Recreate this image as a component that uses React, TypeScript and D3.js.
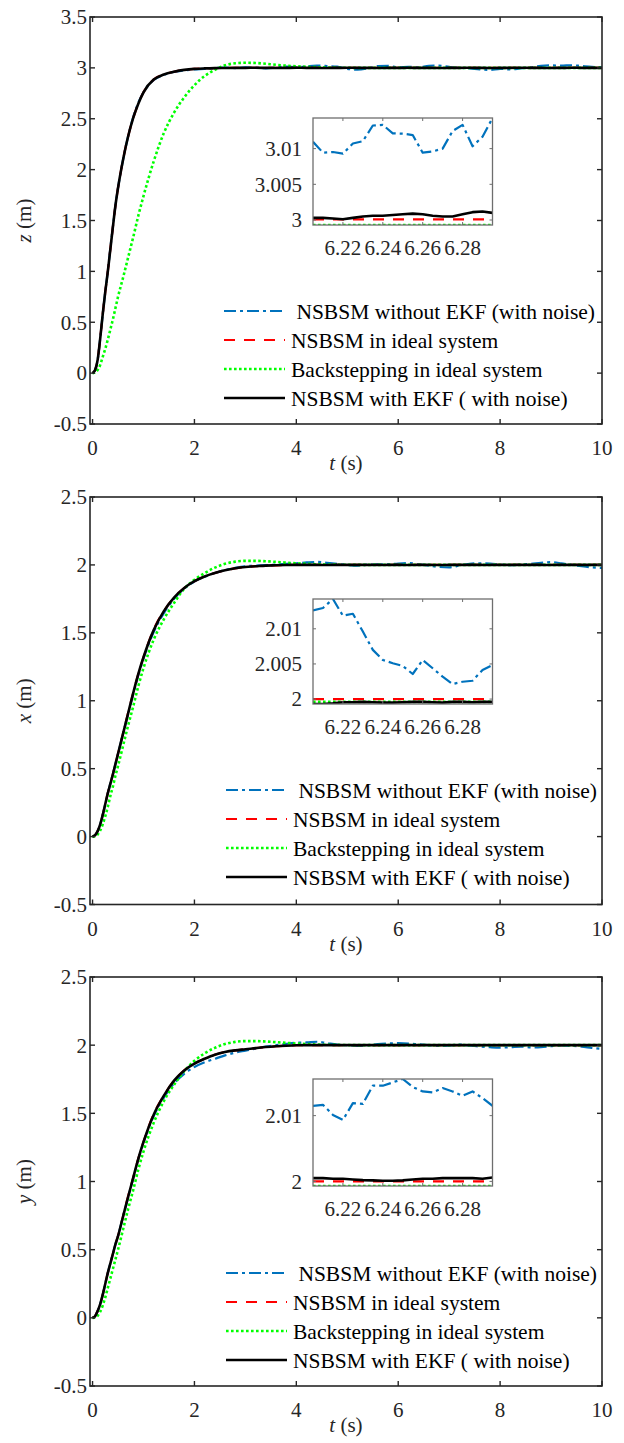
import React from 'react';
import * as d3 from 'd3';

// ---------- time grids ----------
const T = [
  0, 0.05, 0.1, 0.15, 0.2, 0.25, 0.3, 0.35, 0.4, 0.45,
  0.5, 0.6, 0.7, 0.8, 0.9, 1.0, 1.2, 1.4, 1.6, 1.8,
  2.0, 2.2, 2.4, 2.6, 2.8, 3.0, 3.2, 3.4, 3.6, 3.8,
  4.0, 4.2, 4.4, 4.6, 4.8, 5.0, 5.2, 5.4, 5.6, 5.8,
  6.0, 6.2, 6.4, 6.6, 6.8, 7.0, 7.2, 7.4, 7.6, 7.8,
  8.0, 8.2, 8.4, 8.6, 8.8, 9.0, 9.2, 9.4, 9.6, 9.8,
  10.0,
];
const T_IN = [6.205, 6.21, 6.215, 6.22, 6.225, 6.23, 6.235, 6.24, 6.245, 6.25,
  6.255, 6.26, 6.265, 6.27, 6.275, 6.28, 6.285, 6.29, 6.295];

// ---------- z panel ----------
const Z_BLUE = [
  0, 0.03, 0.13, 0.34, 0.58, 0.8, 1.0, 1.23, 1.44, 1.65,
  1.82, 2.1, 2.33, 2.52, 2.66, 2.76, 2.88, 2.93, 2.96, 2.975,
  2.985, 2.99, 2.997, 3.003, 2.998, 3.005, 3.002, 2.996, 3.004, 3.012,
  3.006, 3.015, 3.022, 3.018, 3.012, 2.99, 2.982, 2.995, 3.018, 3.02,
  3.005, 3.011, 3.005, 3.02, 3.022, 3.01, 3.0, 2.995, 2.985, 2.98,
  2.99, 2.985, 2.995, 3.005, 3.02, 3.025, 3.022, 3.026, 3.018, 3.01,
  3.005,
];
const Z_RED = [
  0, 0.03, 0.13, 0.34, 0.58, 0.8, 1.0, 1.22, 1.44, 1.65,
  1.82, 2.1, 2.33, 2.51, 2.65, 2.76, 2.885, 2.935, 2.962, 2.98,
  2.99, 2.995, 2.998, 2.999, 3.0, 3.0, 3.0, 3.0, 3.0, 3.0,
  3.0, 3.0, 3.0, 3.0, 3.0, 3.0, 3.0, 3.0, 3.0, 3.0,
  3.0, 3.0, 3.0, 3.0, 3.0, 3.0, 3.0, 3.0, 3.0, 3.0,
  3.0, 3.0, 3.0, 3.0, 3.0, 3.0, 3.0, 3.0, 3.0, 3.0,
  3.0,
];
const Z_GREEN = [
  0, 0.005, 0.03, 0.08, 0.16, 0.24, 0.33, 0.43, 0.53, 0.64,
  0.75, 0.94, 1.14, 1.34, 1.55, 1.74, 2.08, 2.36, 2.56, 2.71,
  2.83, 2.92, 2.98, 3.025, 3.045, 3.05, 3.048, 3.04, 3.03, 3.022,
  3.016, 3.011, 3.007, 3.004, 3.002, 3.001, 3.0, 3.0, 3.0, 3.0,
  3.0, 3.0, 3.0, 3.0, 3.0, 3.0, 3.0, 3.0, 3.0, 3.0,
  3.0, 3.0, 3.0, 3.0, 3.0, 3.0, 3.0, 3.0, 3.0, 3.0,
  3.0,
];
const Z_BLACK = [
  0, 0.03, 0.13, 0.34, 0.58, 0.8, 1.0, 1.22, 1.44, 1.65,
  1.82, 2.1, 2.33, 2.51, 2.65, 2.76, 2.885, 2.935, 2.962, 2.98,
  2.99, 2.995, 2.998, 2.999, 3.0, 3.0, 3.001, 3.0, 2.999, 3.0,
  3.001, 3.0, 3.0, 2.999, 3.0, 3.001, 3.0, 3.0, 2.999, 3.0,
  3.0, 3.0005, 3.0, 3.0, 2.999, 3.0, 3.0, 3.001, 3.0, 2.999,
  3.0, 3.0, 3.001, 3.0, 3.0, 2.999, 3.0, 3.001, 3.0, 3.0,
  3.0,
];
const Z_IN_BLUE = [3.01096, 3.00943, 3.00953, 3.00929, 3.01071, 3.01104, 3.01324, 3.01333, 3.01214, 3.0121,
  3.0119, 3.00943, 3.00961, 3.01, 3.01247, 3.01333, 3.01033, 3.01167, 3.01429];
const Z_IN_RED = [3.0001, 3.0001, 3.0001, 3.0001, 3.0001, 3.0001, 3.0001, 3.0001, 3.0001, 3.0001,
  3.0001, 3.0001, 3.0001, 3.0001, 3.0001, 3.0001, 3.0001, 3.0001, 3.0001];
const Z_IN_GREEN = [2.9993, 2.9993, 2.9993, 2.9993, 2.9993, 2.9993, 2.9993, 2.9993, 2.9993, 2.9993,
  2.9993, 2.9993, 2.9993, 2.9993, 2.9993, 2.9993, 2.9993, 2.9993, 2.9993];
const Z_IN_BLACK = [3.0003, 3.0003, 3.0002, 3.0001, 3.0003, 3.0005, 3.0006, 3.0006, 3.0007, 3.0008,
  3.0009, 3.0008, 3.0006, 3.0005, 3.0005, 3.0008, 3.0011, 3.0012, 3.001];

// ---------- x panel ----------
const X_BLUE = [
  0, 0.01, 0.04, 0.09, 0.16, 0.24, 0.32, 0.39, 0.46, 0.535,
  0.61, 0.76, 0.905, 1.05, 1.19, 1.31, 1.505, 1.645, 1.75, 1.825,
  1.878, 1.912, 1.94, 1.962, 1.978, 1.99, 1.995, 1.998, 2.003, 2.008,
  2.012, 2.018, 2.022, 2.015, 2.008, 2.0, 1.995, 2.002, 2.006, 2.004,
  2.01, 2.013, 2.005, 1.995, 1.985, 1.982, 1.995, 2.008, 2.012, 2.01,
  2.002, 1.998, 2.003, 2.008, 2.015, 2.02, 2.012, 2.0, 1.99, 1.982,
  1.978,
];
const X_RED = [
  0, 0.01, 0.04, 0.09, 0.16, 0.24, 0.32, 0.39, 0.46, 0.535,
  0.61, 0.76, 0.915, 1.06, 1.2, 1.32, 1.525, 1.66, 1.76, 1.83,
  1.88, 1.915, 1.94, 1.96, 1.975, 1.985, 1.99, 1.995, 1.997, 1.999,
  2.0, 2.0, 2.0, 2.0, 2.0, 2.0, 2.0, 2.0, 2.0, 2.0,
  2.0, 2.0, 2.0, 2.0, 2.0, 2.0, 2.0, 2.0, 2.0, 2.0,
  2.0, 2.0, 2.0, 2.0, 2.0, 2.0, 2.0, 2.0, 2.0, 2.0,
  2.0,
];
const X_GREEN = [
  0, 0.003, 0.015, 0.045, 0.09, 0.15, 0.22, 0.3, 0.37, 0.45,
  0.52, 0.67, 0.82, 0.96, 1.11, 1.24, 1.45, 1.6, 1.72, 1.825,
  1.89, 1.94, 1.98, 2.008, 2.024, 2.03, 2.03, 2.027, 2.022, 2.017,
  2.012, 2.008, 2.005, 2.003, 2.002, 2.001, 2.0, 2.0, 2.0, 2.0,
  2.0, 2.0, 2.0, 2.0, 2.0, 2.0, 2.0, 2.0, 2.0, 2.0,
  2.0, 2.0, 2.0, 2.0, 2.0, 2.0, 2.0, 2.0, 2.0, 2.0,
  2.0,
];
const X_BLACK = [
  0, 0.01, 0.04, 0.09, 0.16, 0.24, 0.32, 0.39, 0.46, 0.535,
  0.61, 0.76, 0.91, 1.06, 1.2, 1.32, 1.52, 1.66, 1.76, 1.83,
  1.88, 1.915, 1.94, 1.96, 1.975, 1.985, 1.99, 1.995, 1.997, 1.999,
  2.0, 2.0, 2.0, 1.999, 2.0, 2.0, 2.0, 2.0, 1.999, 2.0,
  2.0, 1.9995, 2.0, 2.0, 1.999, 2.0, 2.0, 2.0, 2.0, 1.999,
  2.0, 2.0, 2.0, 2.0, 2.0, 1.999, 2.0, 2.0, 2.0, 2.0,
  2.0,
];
const X_IN_BLUE = [2.01261, 2.01296, 2.01424, 2.01186, 2.01214, 2.00961, 2.007, 2.00557, 2.0051, 2.00471,
  2.00357, 2.00557, 2.00439, 2.00319, 2.00214, 2.00247, 2.00261, 2.00414, 2.00486];
const X_IN_RED = [2.0, 2.0, 2.0, 2.0, 2.0, 2.0, 2.0, 2.0, 2.0, 2.0,
  2.0, 2.0, 2.0, 2.0, 2.0, 2.0, 2.0, 2.0, 2.0];
const X_IN_GREEN = [1.9996, 1.9996, 1.9996, 1.9996, 1.9996, 1.9996, 1.9996, 1.9996, 1.9996, 1.9996,
  1.9996, 1.9996, 1.9996, 1.9996, 1.9996, 1.9996, 1.9996, 1.9996, 1.9996];
const X_IN_BLACK = [1.9993, 1.9993, 1.9994, 1.99955, 1.99955, 1.9996, 1.99955, 1.9995, 1.9995, 1.99955,
  1.9996, 1.9996, 1.99955, 1.9995, 1.9996, 1.9996, 1.99955, 1.9996, 1.9996];

// ---------- y panel ----------
const Y_BLUE = [
  0, 0.012, 0.05, 0.1, 0.17, 0.25, 0.33, 0.4, 0.47, 0.54,
  0.6, 0.745, 0.885, 1.025, 1.165, 1.285, 1.48, 1.615, 1.72, 1.79,
  1.84, 1.875, 1.9, 1.925, 1.945, 1.96, 1.975, 1.99, 2.0, 2.01,
  2.018, 2.02, 2.025, 2.015, 2.005, 2.0, 1.995, 2.0, 2.008, 2.012,
  2.015, 2.012, 2.006, 2.0, 1.995, 1.998, 2.004, 1.998, 1.99, 1.985,
  1.982, 1.985, 1.99, 1.983, 1.985, 1.992, 1.998, 1.995, 1.99, 1.98,
  1.972,
];
const Y_RED = [
  0, 0.012, 0.05, 0.1, 0.17, 0.25, 0.33, 0.4, 0.47, 0.54,
  0.6, 0.745, 0.895, 1.03, 1.17, 1.29, 1.495, 1.63, 1.74, 1.815,
  1.865, 1.9, 1.93, 1.95, 1.962, 1.97, 1.978, 1.986, 1.992, 1.996,
  2.0, 2.0, 2.0, 2.0, 2.0, 2.0, 2.0, 2.0, 2.0, 2.0,
  2.0, 2.0, 2.0, 2.0, 2.0, 2.0, 2.0, 2.0, 2.0, 2.0,
  2.0, 2.0, 2.0, 2.0, 2.0, 2.0, 2.0, 2.0, 2.0, 2.0,
  2.0,
];
const Y_GREEN = [
  0, 0.003, 0.015, 0.045, 0.09, 0.15, 0.22, 0.29, 0.36, 0.43,
  0.5, 0.65, 0.8, 0.94, 1.09, 1.22, 1.43, 1.59, 1.71, 1.81,
  1.885, 1.94, 1.98, 2.008, 2.024, 2.03, 2.03, 2.027, 2.022, 2.017,
  2.012, 2.008, 2.005, 2.003, 2.002, 2.001, 2.0, 2.0, 2.0, 2.0,
  2.0, 2.0, 2.0, 2.0, 2.0, 2.0, 2.0, 2.0, 2.0, 2.0,
  2.0, 2.0, 2.0, 2.0, 2.0, 2.0, 2.0, 2.0, 2.0, 2.0,
  2.0,
];
const Y_BLACK = [
  0, 0.012, 0.05, 0.1, 0.17, 0.25, 0.33, 0.4, 0.47, 0.54,
  0.6, 0.745, 0.89, 1.03, 1.17, 1.29, 1.49, 1.63, 1.74, 1.815,
  1.865, 1.9, 1.93, 1.95, 1.962, 1.97, 1.978, 1.986, 1.992, 1.996,
  1.999, 2.0, 2.0, 2.0, 2.0, 2.0, 2.0, 2.0, 2.0, 2.0,
  2.0, 2.0003, 2.0, 2.0, 2.0, 2.0, 2.0, 2.0, 2.0, 2.0,
  2.0, 2.0, 2.0, 2.0, 2.0, 2.0, 2.0, 2.0, 2.0, 2.0,
  2.0,
];
const Y_IN_BLUE = [2.01149, 2.01164, 2.01011, 2.00934, 2.0119, 2.01179, 2.01455, 2.01455, 2.01505, 2.01557,
  2.01435, 2.01368, 2.01352, 2.0142, 2.01368, 2.01302, 2.01368, 2.01266, 2.01149];
const Y_IN_RED = [2.0, 2.0, 2.0, 2.0, 2.0, 2.0, 2.0, 2.0, 2.0, 2.0,
  2.0, 2.0, 2.0, 2.0, 2.0, 2.0, 2.0, 2.0, 2.0];
const Y_IN_GREEN = [1.9993, 1.9993, 1.9993, 1.9993, 1.9993, 1.9993, 1.9993, 1.9993, 1.9993, 1.9993,
  1.9993, 1.9993, 1.9993, 1.9993, 1.9993, 1.9993, 1.9993, 1.9993, 1.9993];
const Y_IN_BLACK = [2.0005, 2.0005, 2.0004, 2.0004, 2.0003, 2.0002, 2.00015, 2.0001, 2.0001, 2.00015,
  2.0003, 2.0004, 2.0004, 2.0005, 2.0005, 2.0005, 2.0005, 2.0004, 2.0006];

// ---------- ticks / labels ----------
const X_TICKS = [0, 2, 4, 6, 8, 10];
const Z_TICKS = [-0.5, 0, 0.5, 1, 1.5, 2, 2.5, 3, 3.5];
const XY_TICKS = [-0.5, 0, 0.5, 1, 1.5, 2, 2.5];
const IN_X_TICKS = [6.22, 6.24, 6.26, 6.28];
const Z_IN_TICKS = [3, 3.005, 3.01];
const X_IN_TICKS = [2, 2.005, 2.01];
const Y_IN_TICKS = [2, 2.01];
const LEGEND_LABELS = [
  ' NSBSM without EKF (with noise)',
  'NSBSM in ideal system',
  'Backstepping in ideal system',
  'NSBSM with EKF ( with noise)',
];

const FONT = '"Liberation Serif"';
const AX = '#262626';
const STYLES = [
  { stroke: '#0072BD', width: 2.2, dash: '12,4,3,4' },
  { stroke: '#FF0000', width: 2.2, dash: '11,9' },
  { stroke: '#00FF00', width: 2.6, dash: '2.6,2.4' },
  { stroke: '#000000', width: 2.6, dash: undefined },
];

const PANELS = [
  {
    id: 'z', label: 'z', top: 17, bottom: 424, yDomain: [-0.5, 3.5], yTicks: Z_TICKS,
    series: [Z_BLUE, Z_RED, Z_GREEN, Z_BLACK],
    inset: { top: 118, bottom: 225, ticks: Z_IN_TICKS, series: [Z_IN_BLUE, Z_IN_RED, Z_IN_GREEN, Z_IN_BLACK] },
    legend: { x1: 224, x2: 285, tx: 291, rows: [311, 340, 369, 398] },
  },
  {
    id: 'x', label: 'x', top: 497, bottom: 904.5, yDomain: [-0.5, 2.5], yTicks: XY_TICKS,
    series: [X_BLUE, X_RED, X_GREEN, X_BLACK],
    inset: { top: 599, bottom: 704, ticks: X_IN_TICKS, series: [X_IN_BLUE, X_IN_RED, X_IN_GREEN, X_IN_BLACK] },
    legend: { x1: 226, x2: 287, tx: 293, rows: [790, 819, 848, 877] },
  },
  {
    id: 'y', label: 'y', top: 977, bottom: 1386, yDomain: [-0.5, 2.5], yTicks: XY_TICKS,
    series: [Y_BLUE, Y_RED, Y_GREEN, Y_BLACK],
    inset: { top: 1079, bottom: 1186, ticks: Y_IN_TICKS, series: [Y_IN_BLUE, Y_IN_RED, Y_IN_GREEN, Y_IN_BLACK] },
    legend: { x1: 226, x2: 287, tx: 293, rows: [1273, 1302, 1331, 1360] },
  },
];

const LEFT = 90;
const RIGHT = 602;
const IN_LEFT = 313;
const IN_RIGHT = 492.5;

function Panel({ p }: { p: any }) {
  const x = d3.scaleLinear().domain([-0.05, 10]).range([LEFT, RIGHT]);
  const y = d3.scaleLinear().domain(p.yDomain).range([p.bottom, p.top]);
  const line = d3.line<number>().x((_, i) => x(T[i])).y((v) => y(v)).curve(d3.curveMonotoneX);

  const ix = d3.scaleLinear().domain([6.205, 6.295]).range([IN_LEFT, IN_RIGHT]);
  const allIn = ([] as number[]).concat(...p.inset.series);
  const iy = d3.scaleLinear().domain(d3.extent(allIn) as [number, number]).range([p.inset.bottom, p.inset.top]);
  const iline = d3.line<number>().x((_, i) => ix(T_IN[i])).y((v) => iy(v));

  const cy = (p.top + p.bottom) / 2;
  const tick = 5;
  const itick = 3;
  const txt = { fontFamily: FONT, fontSize: 21, fill: AX } as any;
  return (
    <g>
      <defs>
        <clipPath id={`clip-${p.id}`}>
          <rect x={LEFT} y={p.top} width={RIGHT - LEFT} height={p.bottom - p.top} />
        </clipPath>
        <clipPath id={`iclip-${p.id}`}>
          <rect x={IN_LEFT} y={p.inset.top} width={IN_RIGHT - IN_LEFT} height={p.inset.bottom - p.inset.top} />
        </clipPath>
      </defs>
      <g clipPath={`url(#clip-${p.id})`}>
        {p.series.map((s: number[], k: number) => (
          <path key={k} d={line(s) || ''} fill="none" stroke={STYLES[k].stroke}
            strokeWidth={STYLES[k].width} strokeDasharray={STYLES[k].dash} strokeLinejoin="round" />
        ))}
      </g>
      <rect x={LEFT} y={p.top} width={RIGHT - LEFT} height={p.bottom - p.top} fill="none" stroke={AX} strokeWidth={1.6} />
      {X_TICKS.map((t) => (
        <g key={t}>
          <line x1={x(t)} x2={x(t)} y1={p.bottom} y2={p.bottom - tick} stroke={AX} strokeWidth={1.4} />
          <line x1={x(t)} x2={x(t)} y1={p.top} y2={p.top + tick} stroke={AX} strokeWidth={1.4} />
          <text x={x(t)} y={p.bottom + 31} textAnchor="middle" style={txt}>{t}</text>
        </g>
      ))}
      {p.yTicks.map((t: number) => (
        <g key={t}>
          <line x1={LEFT} x2={LEFT + tick} y1={y(t)} y2={y(t)} stroke={AX} strokeWidth={1.4} />
          <line x1={RIGHT} x2={RIGHT - tick} y1={y(t)} y2={y(t)} stroke={AX} strokeWidth={1.4} />
          <text x={87} y={y(t)} dy="0.35em" textAnchor="end" style={txt}>{String(t)}</text>
        </g>
      ))}
      <text x={(LEFT + RIGHT) / 2} y={p.bottom + 46} textAnchor="middle" style={txt}>
        <tspan fontStyle="italic">t</tspan>
        <tspan> (s)</tspan>
      </text>
      <text transform={`translate(31,${cy}) rotate(-90)`} textAnchor="middle" style={txt}>
        <tspan fontStyle="italic">{p.label}</tspan>
        <tspan> (m)</tspan>
      </text>
      <rect x={IN_LEFT} y={p.inset.top} width={IN_RIGHT - IN_LEFT} height={p.inset.bottom - p.inset.top} fill="#fff" />
      <g clipPath={`url(#iclip-${p.id})`}>
        {p.inset.series.map((s: number[], k: number) => (
          <path key={k} d={iline(s) || ''} fill="none" stroke={STYLES[k].stroke}
            strokeWidth={STYLES[k].width} strokeDasharray={STYLES[k].dash} strokeLinejoin="round" />
        ))}
      </g>
      <rect x={IN_LEFT} y={p.inset.top} width={IN_RIGHT - IN_LEFT} height={p.inset.bottom - p.inset.top} fill="none" stroke="#6e6e6e" strokeWidth={1.3} />
      {IN_X_TICKS.map((t) => (
        <g key={t}>
          <line x1={ix(t)} x2={ix(t)} y1={p.inset.bottom} y2={p.inset.bottom - itick} stroke="#6e6e6e" strokeWidth={1} />
          <line x1={ix(t)} x2={ix(t)} y1={p.inset.top} y2={p.inset.top + itick} stroke="#6e6e6e" strokeWidth={1} />
          <text x={ix(t)} y={p.inset.bottom + 30} textAnchor="middle" style={txt}>{String(t)}</text>
        </g>
      ))}
      {p.inset.ticks.map((t: number) => (
        <g key={t}>
          <line x1={IN_LEFT} x2={IN_LEFT + itick} y1={iy(t)} y2={iy(t)} stroke="#6e6e6e" strokeWidth={1} />
          <line x1={IN_RIGHT} x2={IN_RIGHT - itick} y1={iy(t)} y2={iy(t)} stroke="#6e6e6e" strokeWidth={1} />
          <text x={302} y={iy(t)} dy="0.35em" textAnchor="end" style={txt}>{String(t)}</text>
        </g>
      ))}
      {LEGEND_LABELS.map((lab, k) => (
        <g key={k}>
          <line x1={p.legend.x1} x2={p.legend.x2} y1={p.legend.rows[k]} y2={p.legend.rows[k]}
            stroke={STYLES[k].stroke} strokeWidth={STYLES[k].width} strokeDasharray={STYLES[k].dash} />
          <text x={p.legend.tx} y={p.legend.rows[k]} dy="0.35em"
            style={{ fontFamily: FONT, fontSize: 21.5, fill: '#000', whiteSpace: 'pre' }}>{lab}</text>
        </g>
      ))}
    </g>
  );
}

export default function App() {
  return (
    <svg width={624} height={1443} style={{ position: 'absolute', left: 0, top: 0, background: '#fff' }}>
      <rect x={0} y={0} width={624} height={1443} fill="#fff" />
      {PANELS.map((p) => <Panel key={p.id} p={p} />)}
    </svg>
  );
}
